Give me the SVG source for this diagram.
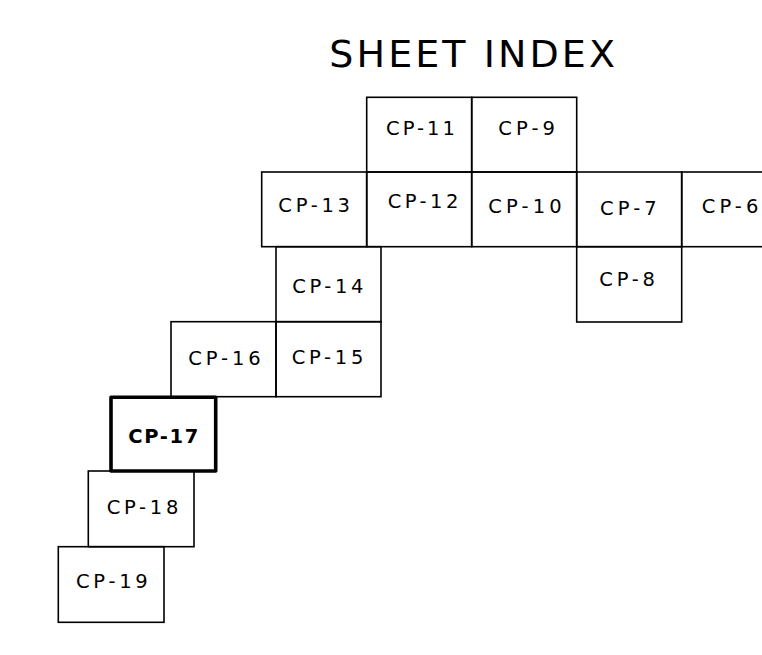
<svg xmlns="http://www.w3.org/2000/svg" width="762" height="655" viewBox="0 0 762 655">
<style>
.box{fill:none;stroke:#000;stroke-width:1.6}
.cur{fill:none;stroke:#000;stroke-width:3.6;stroke-linejoin:round}
.lbl{font-family:"DejaVu Sans","Liberation Sans",sans-serif;font-size:19.5px;fill:#000}
.bold{font-weight:bold}
.title{font-family:"DejaVu Sans","Liberation Sans",sans-serif;font-size:38px;fill:#000}
</style>
<rect width="762" height="655" fill="#fff"/>
<text class="title" x="329.3" y="66.7" textLength="285.7" lengthAdjust="spacing">SHEET INDEX</text>
<g id="cp11"><rect class="box" x="366.7" y="97.3" width="105" height="74.7"/><text class="lbl" x="386" y="135" textLength="69" lengthAdjust="spacing">CP-11</text></g>
<g id="cp9"><rect class="box" x="471.7" y="97.3" width="105" height="74.7"/><text class="lbl" x="498.3" y="135" textLength="56.7" lengthAdjust="spacing">CP-9</text></g>
<g id="cp13"><rect class="box" x="261.7" y="172" width="105" height="74.7"/><text class="lbl" x="278.3" y="211.7" textLength="71.7" lengthAdjust="spacing">CP-13</text></g>
<g id="cp12"><rect class="box" x="366.7" y="172" width="105" height="74.7"/><text class="lbl" x="387.7" y="208.3" textLength="70.6" lengthAdjust="spacing">CP-12</text></g>
<g id="cp10"><rect class="box" x="471.7" y="172" width="105" height="74.7"/><text class="lbl" x="488.3" y="213.3" textLength="73.4" lengthAdjust="spacing">CP-10</text></g>
<g id="cp7"><rect class="box" x="576.7" y="172" width="105" height="74.7"/><text class="lbl" x="600" y="215" textLength="56.7" lengthAdjust="spacing">CP-7</text></g>
<g id="cp6"><rect class="box" x="681.7" y="172" width="120" height="74.7"/><text class="lbl" x="701.7" y="213.3" textLength="56.6" lengthAdjust="spacing">CP-6</text></g>
<g id="cp8"><rect class="box" x="576.7" y="246.7" width="105" height="75.3"/><text class="lbl" x="599.3" y="286" textLength="55.7" lengthAdjust="spacing">CP-8</text></g>
<g id="cp14"><rect class="box" x="276" y="246.7" width="105" height="75"/><text class="lbl" x="292.3" y="292.7" textLength="71" lengthAdjust="spacing">CP-14</text></g>
<g id="cp16"><rect class="box" x="171" y="321.7" width="105" height="75"/><text class="lbl" x="188.3" y="365" textLength="72.4" lengthAdjust="spacing">CP-16</text></g>
<g id="cp15"><rect class="box" x="276" y="321.7" width="105" height="75"/><text class="lbl" x="291.7" y="364" textLength="71.6" lengthAdjust="spacing">CP-15</text></g>
<g id="cp18"><rect class="box" x="88.3" y="471" width="105.7" height="75.7"/><text class="lbl" x="106.7" y="514" textLength="71.6" lengthAdjust="spacing">CP-18</text></g>
<g id="cp19"><rect class="box" x="58.3" y="546.7" width="105.7" height="75.6"/><text class="lbl" x="76" y="588.3" textLength="71.7" lengthAdjust="spacing">CP-19</text></g>
<g id="cp17"><rect class="cur" x="111" y="397.3" width="104.7" height="73.7"/><text class="lbl bold" x="128.3" y="443.3" textLength="70" lengthAdjust="spacing">CP-17</text></g>
</svg>
